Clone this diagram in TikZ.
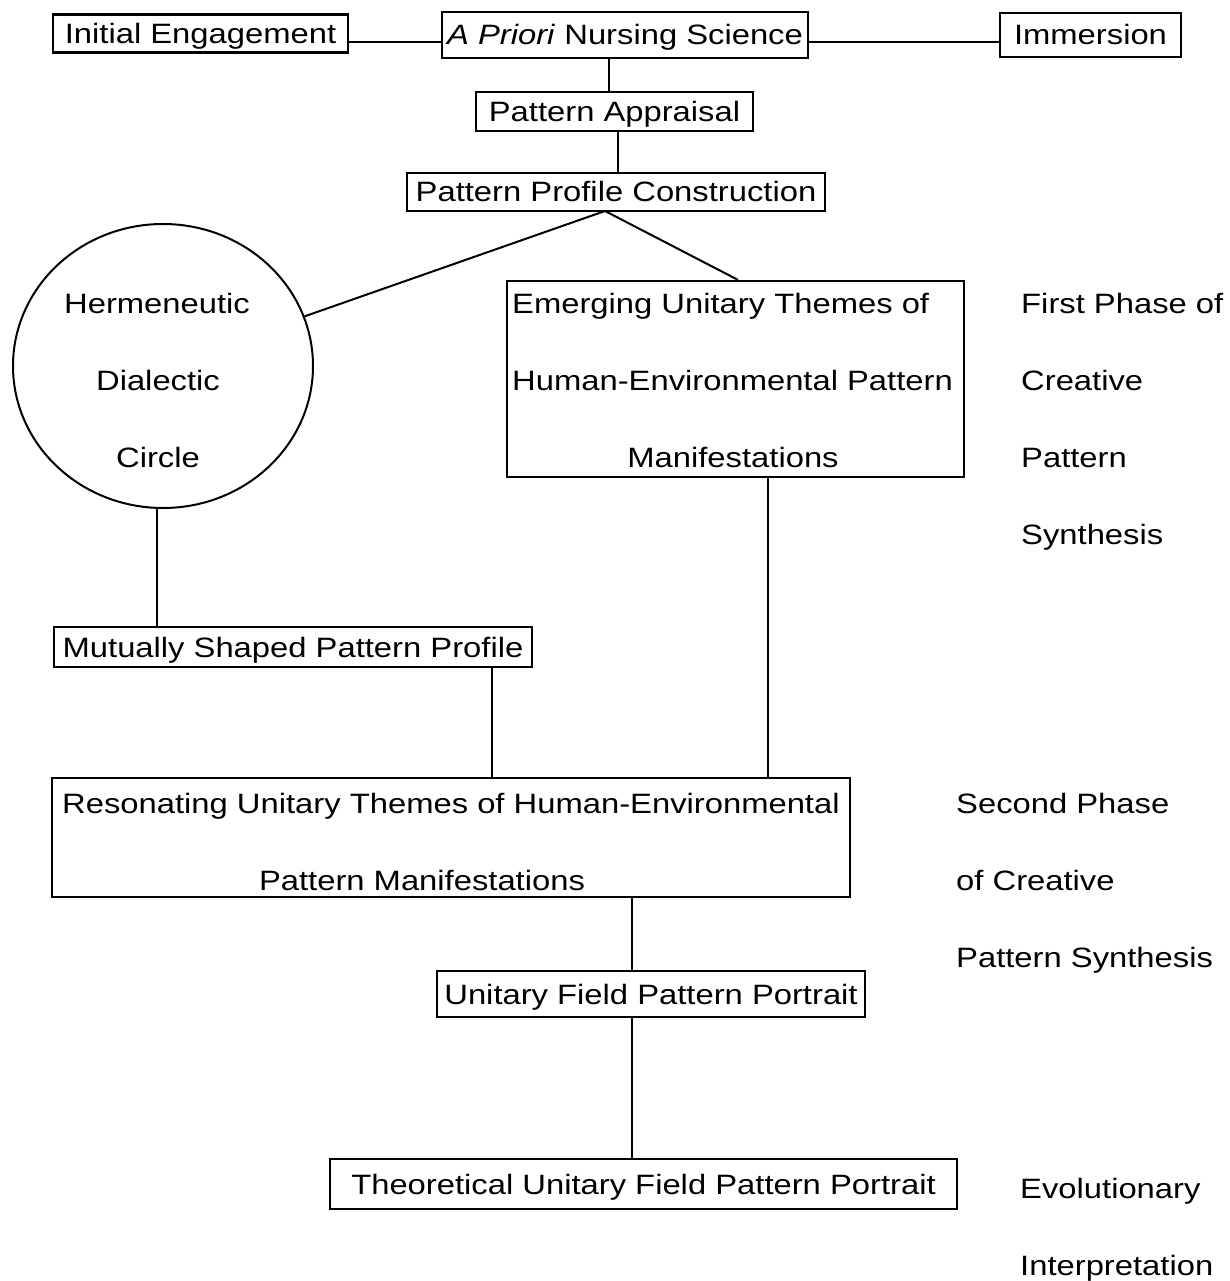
\documentclass[tikz,border=0pt]{standalone}
\usepackage{fontspec}
\setmainfont{Liberation Sans}[FakeStretch=1.17]
\usetikzlibrary{shapes.geometric}
\begin{document}
\begin{tikzpicture}[x=1pt,y=-1pt,
  every node/.style={font=\fontsize{28}{34}\selectfont},
  box/.style={draw, line width=2.2pt, inner sep=0pt, text height=24pt, text depth=4pt},
  lbl/.style={anchor=base west, inner sep=0pt},
  clbl/.style={anchor=base, inner sep=0pt},
  conn/.style={line width=2pt}]
\useasboundingbox (0,0) rectangle (1230,1281);
% boxes
\node[box, minimum width=295, minimum height=38] (ie) at (200.5,33.5) {Initial Engagement};
\node[box, minimum width=366, minimum height=46] (apns) at (625,35) {\textit{A Priori} Nursing Science};
\node[box, minimum width=181, minimum height=44] (imm) at (1090.5,35) {Immersion};
\node[box, minimum width=277, minimum height=39] (pa) at (614.5,111.5) {Pattern Appraisal};
\node[box, minimum width=418, minimum height=38] (ppc) at (616,192) {Pattern Profile Construction};
\node[draw, line width=2pt, ellipse, inner sep=0pt, minimum width=300, minimum height=284] (circ) at (163,366) {};
\node[box, minimum width=457, minimum height=196] (emg) at (735.5,379) {};
\node[box, minimum width=478, minimum height=40] (msp) at (293,647) {Mutually Shaped Pattern Profile};
\node[box, minimum width=798, minimum height=119] (res) at (451,837.5) {};
\node[box, minimum width=428, minimum height=46] (ufp) at (651,994) {Unitary Field Pattern Portrait};
\node[box, minimum width=627, minimum height=50] (tuf) at (643.5,1184) {Theoretical Unitary Field Pattern Portrait};
% texts inside circle and multi-line boxes
\node[clbl] (h1) at (157,313) {Hermeneutic};
\node[clbl] (h2) at (158,390) {Dialectic};
\node[clbl] (h3) at (158,467) {Circle};
\node[lbl] (e1) at (512,313) {Emerging Unitary Themes of};
\node[lbl] (e2) at (512,390) {Human-Environmental Pattern};
\node[clbl] (e3) at (733,467) {Manifestations};
\node[lbl] (r1) at (62,813) {Resonating Unitary Themes of Human-Environmental};
\node[clbl] (r2) at (422,890) {Pattern Manifestations};
% side labels
\node[lbl] (f1) at (1021,313) {First Phase of};
\node[lbl] (f2) at (1021,390) {Creative};
\node[lbl] (f3) at (1021,467) {Pattern};
\node[lbl] (f4) at (1021,544) {Synthesis};
\node[lbl] (s1) at (956,813) {Second Phase};
\node[lbl] (s2) at (956,890) {of Creative};
\node[lbl] (s3) at (956,967) {Pattern Synthesis};
\node[lbl] (v1) at (1020,1198) {Evolutionary};
\node[lbl] (v2) at (1020,1275) {Interpretation};
% helper coordinates
\coordinate (row) at (0,42);
\coordinate (xa) at (609,0);
\coordinate (xb) at (618,0);
\coordinate (apex) at (605,211);
\coordinate (xc) at (738,0);
\coordinate (xd) at (157,0);
\coordinate (xe) at (768,0);
\coordinate (xf) at (492,0);
\coordinate (xg) at (632,0);
% connectors
\draw[conn] (ie.east |- row) -- (apns.west |- row);
\draw[conn] (apns.east |- row) -- (imm.west |- row);
\draw[conn] (apns.south -| xa) -- (pa.north -| xa);
\draw[conn] (pa.south -| xb) -- (ppc.north -| xb);
\draw[conn] (apex) -- (circ);
\draw[conn] (apex) -- (emg.north -| xc);
\draw[conn] (circ.south -| xd) -- (msp.north -| xd);
\draw[conn] (emg.south -| xe) -- (res.north -| xe);
\draw[conn] (msp.south -| xf) -- (res.north -| xf);
\draw[conn] (res.south -| xg) -- (ufp.north -| xg);
\draw[conn] (ufp.south -| xg) -- (tuf.north -| xg);
\end{tikzpicture}
\end{document}
